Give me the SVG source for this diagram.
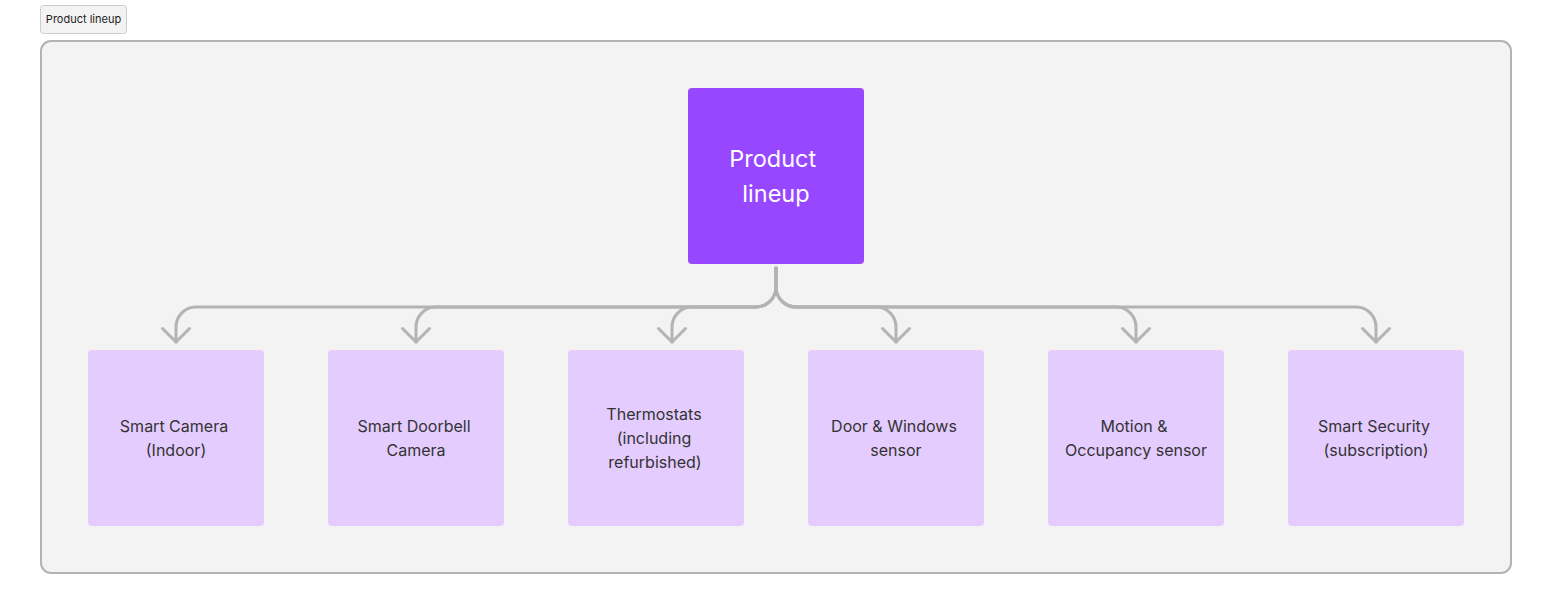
<svg xmlns="http://www.w3.org/2000/svg" width="1552" height="614" viewBox="0 0 1552 614">
  <style>
    .child rect { fill: #e4ccff; }
    .child text { font-family: Inter, "Liberation Sans", sans-serif; font-size: 16px; fill: #333333; text-anchor: middle; }
    .conn path { fill: none; stroke: #b3b3b3; stroke-width: 3; stroke-linecap: round; stroke-linejoin: round; }
  </style>
  <defs>
    <marker id="chev" markerUnits="userSpaceOnUse" markerWidth="40" markerHeight="40" viewBox="-20 -20 40 40" refX="0" refY="0" orient="auto">
      <path d="M -13.5 -13.5 L 0 0 L -13.5 13.5" fill="none" stroke="#b3b3b3" stroke-width="3" stroke-linecap="round" stroke-linejoin="round"/>
    </marker>
  </defs>
  <rect width="1552" height="614" fill="#ffffff"/>
  <g id="frame-label">
    <rect x="40.5" y="5.5" width="86" height="28" rx="3" fill="#f3f3f3" stroke="#cccccc" stroke-width="1"/>
    <text x="83.5" y="22.5" font-family="Inter, 'Liberation Sans', sans-serif" font-size="11" fill="#222222" text-anchor="middle">Product lineup</text>
  </g>
  <g id="frame">
    <rect x="41" y="41" width="1470" height="532" rx="10" fill="#f3f3f3" stroke="#b3b3b3" stroke-width="2"/>
  </g>
  <g id="root">
    <rect x="688" y="88" width="176" height="176" rx="4" fill="#9747ff"/>
    <text font-family="Inter, 'Liberation Sans', sans-serif" font-size="23.5" fill="#ffffff" text-anchor="middle">
      <tspan x="776" y="167">Product</tspan>
      <tspan x="776" y="202">lineup</tspan>
    </text>
  </g>
  <g id="connectors" class="conn">
    <path d="M776 268 V287 A20 20 0 0 1 756 307 H196 A20 20 0 0 0 176 327 V342" marker-end="url(#chev)"/>
    <path d="M776 268 V287 A20 20 0 0 1 756 307 H436 A20 20 0 0 0 416 327 V342" marker-end="url(#chev)"/>
    <path d="M776 268 V287 A20 20 0 0 1 756 307 H692 A20 20 0 0 0 672 327 V342" marker-end="url(#chev)"/>
    <path d="M776 268 V287 A20 20 0 0 0 796 307 H876 A20 20 0 0 1 896 327 V342" marker-end="url(#chev)"/>
    <path d="M776 268 V287 A20 20 0 0 0 796 307 H1116 A20 20 0 0 1 1136 327 V342" marker-end="url(#chev)"/>
    <path d="M776 268 V287 A20 20 0 0 0 796 307 H1356 A20 20 0 0 1 1376 327 V342" marker-end="url(#chev)"/>
  </g>
  <g id="smart-camera" class="child">
    <rect x="88" y="350" width="176" height="176" rx="4"/>
    <text><tspan x="174" y="432">Smart Camera</tspan><tspan x="176" y="456">(Indoor)</tspan></text>
  </g>
  <g id="smart-doorbell" class="child">
    <rect x="328" y="350" width="176" height="176" rx="4"/>
    <text><tspan x="414" y="432">Smart Doorbell</tspan><tspan x="416" y="456">Camera</tspan></text>
  </g>
  <g id="thermostats" class="child">
    <rect x="568" y="350" width="176" height="176" rx="4"/>
    <text><tspan x="654" y="420">Thermostats</tspan><tspan x="654" y="444">(including</tspan><tspan x="655" y="468">refurbished)</tspan></text>
  </g>
  <g id="door-windows" class="child">
    <rect x="808" y="350" width="176" height="176" rx="4"/>
    <text><tspan x="894" y="432">Door &amp; Windows</tspan><tspan x="896" y="456">sensor</tspan></text>
  </g>
  <g id="motion-occupancy" class="child">
    <rect x="1048" y="350" width="176" height="176" rx="4"/>
    <text><tspan x="1134" y="432">Motion &amp;</tspan><tspan x="1136" y="456">Occupancy sensor</tspan></text>
  </g>
  <g id="smart-security" class="child">
    <rect x="1288" y="350" width="176" height="176" rx="4"/>
    <text><tspan x="1374" y="432">Smart Security</tspan><tspan x="1376" y="456">(subscription)</tspan></text>
  </g>
</svg>
